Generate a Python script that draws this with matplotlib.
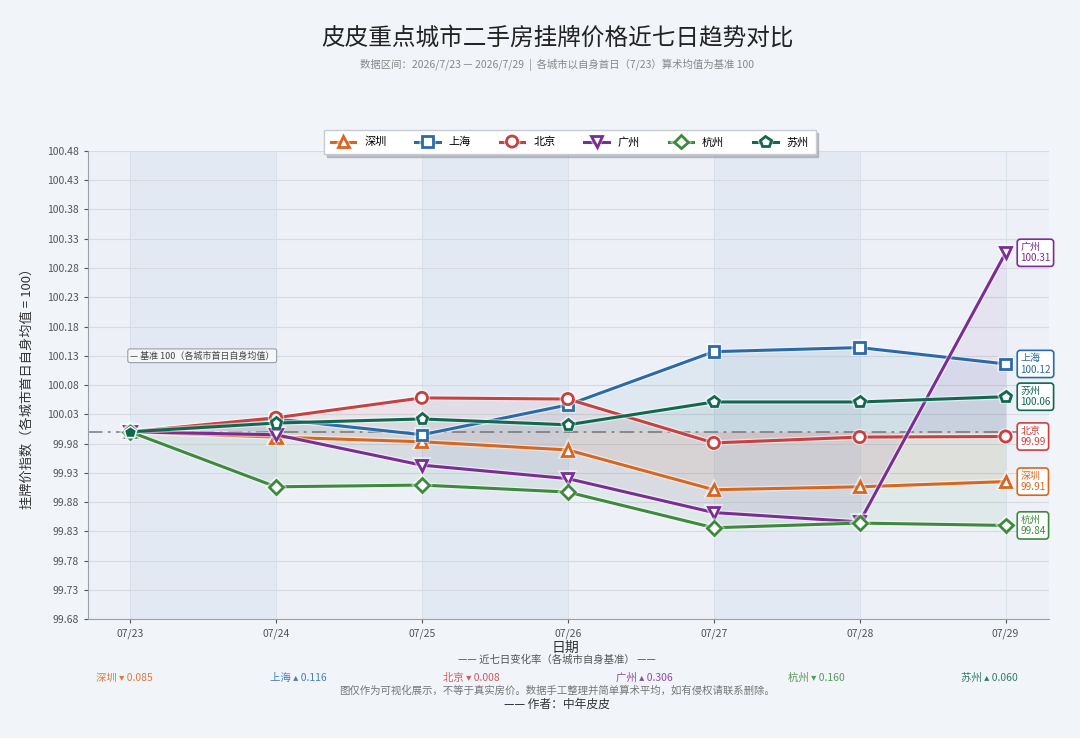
import numpy as np
import matplotlib.pyplot as plt
import matplotlib.patheffects as pe

plt.rcParams['font.family'] = ['Noto Sans CJK SC', 'DejaVu Sans']
plt.rcParams['axes.unicode_minus'] = False

# 数据
dates = ['07/23', '07/24', '07/25', '07/26', '07/27', '07/28', '07/29']
cities = ['深圳', '上海', '北京', '广州', '杭州', '苏州']
shenzhen = [100, 99.991, 99.983, 99.969, 99.901, 99.906, 99.9149]
shanghai = [100, 100.022, 99.995, 100.046, 100.137, 100.144, 100.116]
beijing = [100, 100.024, 100.058, 100.056, 99.981, 99.991, 99.992]
guangzhou = [100, 99.995, 99.943, 99.920, 99.862, 99.846, 100.306]
hangzhou = [100, 99.906, 99.909, 99.897, 99.836, 99.844, 99.840]
suzhou = [100, 100.015, 100.022, 100.012, 100.051, 100.051, 100.060]
series = [shenzhen, shanghai, beijing, guangzhou, hangzhou, suzhou]

colors = ['#d9661f', '#2b6aa8', '#c94040', '#7a2e93', '#3d8a3d', '#11684f']
markers = ['^', 's', 'o', 'v', 'D', 'p']
msizes = [8, 7.5, 8, 8, 7, 8]

yticks = np.round(np.arange(99.68, 100.481, 0.05), 2)

fig = plt.figure(figsize=(10.8, 7.38), dpi=100, facecolor='#f1f4f9')
ax = fig.add_axes([0.0815, 0.1612, 0.8895, 0.6342])
ax.set_facecolor('#edf1f7')

x = np.arange(len(dates))

# 交替背景带
for i in range(0, len(dates) - 1, 2):
    ax.axvspan(x[i], x[i + 1], color='#e0e8f2', alpha=0.8, zorder=0, lw=0)

# 基准线
ax.axhline(100, color='#8a8d93', lw=1.3, ls=(0, (8, 3, 1.5, 3)), zorder=1)

for name, vals, c, m, ms in zip(cities, series, colors, markers, msizes):
    vals = np.array(vals)
    ax.fill_between(x, vals, 100, color=c, alpha=0.07, lw=0, zorder=1)
    ax.plot(x, vals, color=c, lw=2.2, marker=m, ms=ms, mfc='white', mec=c, mew=2,
            label=name, zorder=3,
            path_effects=[pe.withStroke(linewidth=4, foreground='white', alpha=0.5)])
    ax.text(6.1, vals[-1], f'{name}\n{vals[-1]:.2f}', fontsize=7.2, color=c,
            ha='left', va='center', linespacing=1.15, clip_on=False, zorder=5,
            bbox=dict(boxstyle='round,pad=0.3', fc='white', ec=c, lw=1.2))

# 首日重合点
ax.plot([0], [suzhou[0]], marker='p', ms=9, color=colors[5], mec='white', mew=1, zorder=4)

ax.text(0, 100.13, '— 基准 100（各城市首日自身均值）', fontsize=6.5, color='#444',
        ha='left', va='center',
        bbox=dict(boxstyle='round,pad=0.25', fc='#f4f6f9', ec='#9a9ea5', lw=0.8))

ax.set_xlim(-0.288, 6.295)
ax.set_ylim(99.68, 100.48)
ax.set_xticks(x)
ax.set_xticklabels(dates)
ax.set_yticks(yticks)
ax.set_yticklabels([f'{v:.2f}' for v in yticks])
ax.tick_params(labelsize=7.5, colors='#555', length=3)
ax.grid(axis='y', color='#d6dbe2', lw=0.8)
ax.grid(axis='x', color='#d6dee9', lw=0.6)
ax.set_axisbelow(True)
for s in ['top', 'right']:
    ax.spines[s].set_visible(False)
for s in ['left', 'bottom']:
    ax.spines[s].set_color('#9aa0a8')

ax.set_ylabel('挂牌价指数（各城市首日自身均值 = 100）', fontsize=9.5, color='#333', labelpad=10)

leg = ax.legend(loc='center', bbox_to_anchor=(0.5016, 1.019), ncol=6, fontsize=8,
                frameon=True, shadow={'color': '#9aa0a8', 'alpha': 0.6},
                handlelength=2.2, columnspacing=2.6, borderpad=0.6, fancybox=False)
leg.get_frame().set_facecolor('white')
leg.get_frame().set_edgecolor('#c8ccd2')

# 标题
fig.text(0.516, 0.948, '皮皮重点城市二手房挂牌价格近七日趋势对比', fontsize=17,
         ha='center', va='center', color='#222')
fig.text(0.516, 0.912, '数据区间：2026/7/23 — 2026/7/29  |  各城市以自身首日（7/23）算术均值为基准 100',
         fontsize=7.5, ha='center', va='center', color='#888')

# 底部说明
fig.text(0.524, 0.122, '日期', fontsize=10, ha='center', va='center', color='#333')
fig.text(0.516, 0.106, '—— 近七日变化率（各城市自身基准） ——', fontsize=7.5,
         ha='center', va='center', color='#555')
xs = [0.089, 0.25, 0.41, 0.57, 0.73, 0.89]
for xp, name, vals, c in zip(xs, cities, series, colors):
    d = vals[-1] - vals[0]
    arrow = '▴' if d > 0 else '▾'
    fig.text(xp, 0.0813, f'{name} {arrow} {abs(d):.3f}', fontsize=7.5, color=c,
             ha='left', va='center', alpha=0.85)
fig.text(0.516, 0.0637, '图仅作为可视化展示，不等于真实房价。数据手工整理并简单算术平均，如有侵权请联系删除。',
         fontsize=7.5, ha='center', va='center', color='#777')
fig.text(0.516, 0.046, '—— 作者：中年皮皮', fontsize=8.5, ha='center', va='center', color='#333')

fig.savefig('out.png', dpi=100, facecolor=fig.get_facecolor())
